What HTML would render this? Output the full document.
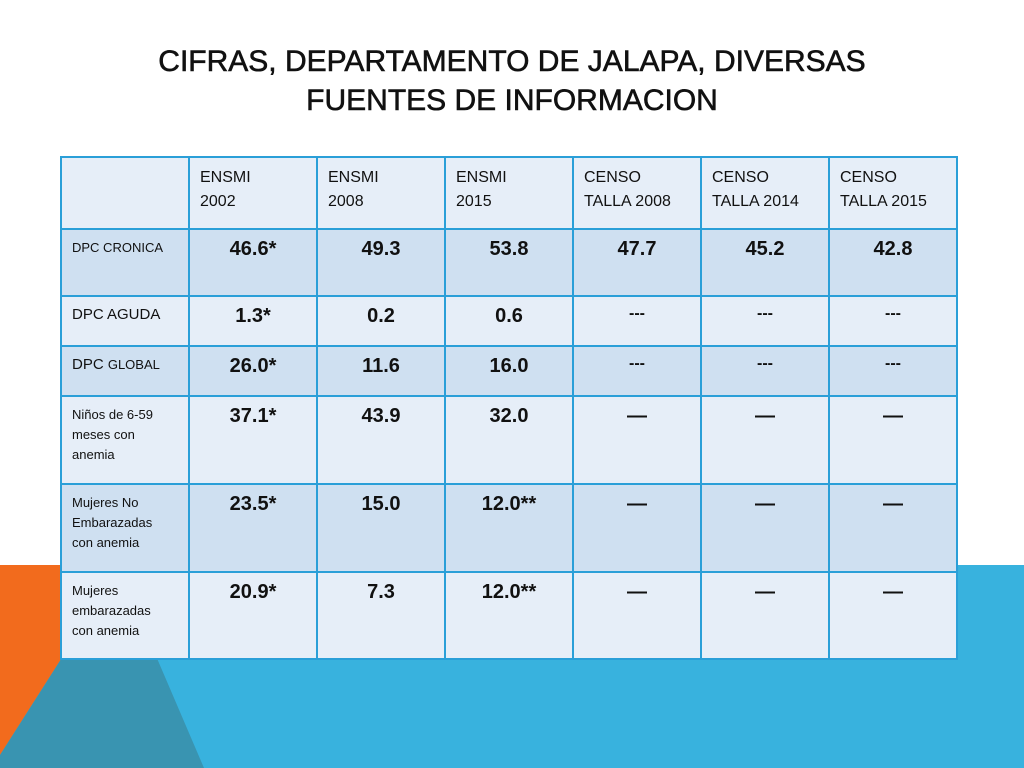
<!DOCTYPE html>
<html><head><meta charset="utf-8"><style>
body{margin:0;width:1024px;height:768px;position:relative;overflow:hidden;background:#fff;font-family:"Liberation Sans",sans-serif}
#bg{position:absolute;left:0;top:0}
h1{position:absolute;left:0;top:42px;width:1024px;margin:0;text-align:center;font-size:30px;font-weight:normal;line-height:39px;color:#111;letter-spacing:0px;-webkit-text-stroke:0.6px #111}
table{position:absolute;left:60px;top:156px;border-collapse:collapse;table-layout:fixed}
td{border:2px solid #2a9fd8;vertical-align:top;padding:0;color:#111}
td.h{font-size:16px;padding:8px 0 0 10px;line-height:24px}
td.l{font-size:13px;padding:8px 0 0 10px;line-height:20px}
td.v{font-size:20px;font-weight:bold;text-align:center;padding-top:8px}
td.d{font-size:16px}
tr.a td{background:#e6eef8}
tr.b td{background:#cfe0f1}
</style></head><body>
<svg id="bg" width="1024" height="768">
<rect x="0" y="565" width="1024" height="203" fill="#38b2de"/>
<polygon points="0,565 121,565 0,755" fill="#f26b1d"/>
<polygon points="121,565 117,565 204,768 0,768 0,755" fill="#3994b1"/>
</svg>
<h1>CIFRAS, DEPARTAMENTO DE JALAPA, DIVERSAS<br>FUENTES DE INFORMACION</h1>
<table>
<colgroup><col style="width:128px"><col style="width:128px"><col style="width:128px"><col style="width:128px"><col style="width:128px"><col style="width:128px"><col style="width:128px"></colgroup>
<tr class="a" style="height:72px"><td></td><td class="h">ENSMI<br>2002</td><td class="h">ENSMI<br>2008</td><td class="h">ENSMI<br>2015</td><td class="h">CENSO<br>TALLA 2008</td><td class="h">CENSO<br>TALLA 2014</td><td class="h">CENSO<br>TALLA 2015</td></tr>
<tr class="b" style="height:67px"><td class="l">DPC CRONICA</td><td class="v">46.6*</td><td class="v">49.3</td><td class="v">53.8</td><td class="v">47.7</td><td class="v">45.2</td><td class="v">42.8</td></tr>
<tr class="a" style="height:50px"><td class="l" style="font-size:15px">DPC AGUDA</td><td class="v">1.3*</td><td class="v">0.2</td><td class="v">0.6</td><td class="v d">---</td><td class="v d">---</td><td class="v d">---</td></tr>
<tr class="b" style="height:50px"><td class="l" style="font-size:15px">DPC <span style="font-size:13px">GLOBAL</span></td><td class="v">26.0*</td><td class="v">11.6</td><td class="v">16.0</td><td class="v d">---</td><td class="v d">---</td><td class="v d">---</td></tr>
<tr class="a" style="height:88px"><td class="l">Niños de 6-59<br>meses con<br>anemia</td><td class="v">37.1*</td><td class="v">43.9</td><td class="v">32.0</td><td class="v">—</td><td class="v">—</td><td class="v">—</td></tr>
<tr class="b" style="height:88px"><td class="l">Mujeres No<br>Embarazadas<br>con anemia</td><td class="v">23.5*</td><td class="v">15.0</td><td class="v">12.0**</td><td class="v">—</td><td class="v">—</td><td class="v">—</td></tr>
<tr class="a" style="height:87px"><td class="l">Mujeres<br>embarazadas<br>con anemia</td><td class="v">20.9*</td><td class="v">7.3</td><td class="v">12.0**</td><td class="v">—</td><td class="v">—</td><td class="v">—</td></tr>
</table>
</body></html>
